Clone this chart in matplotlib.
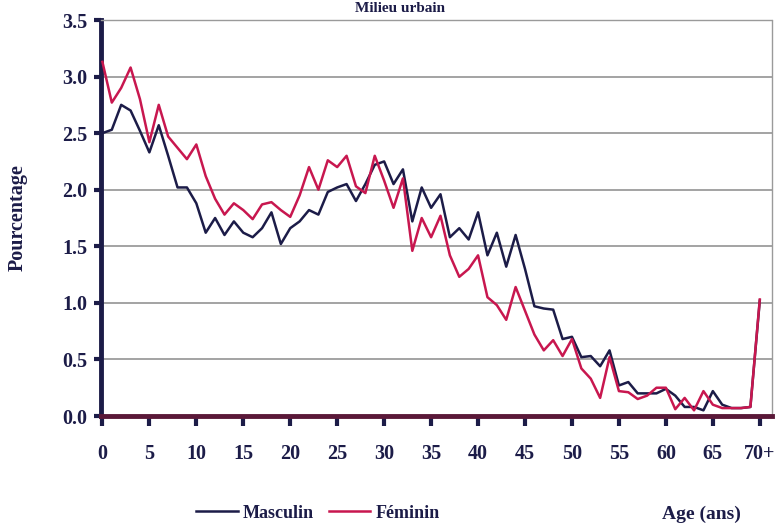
import matplotlib
matplotlib.use("Agg")
import matplotlib.pyplot as plt
import numpy as np

ages = list(range(71))
tick_pos = list(range(0, 71, 5))
tick_labels = ["0", "5", "10", "15", "20", "25", "30", "35", "40", "45", "50", "55", "60", "65", "70+"]
y_ticks = [0.0, 0.5, 1.0, 1.5, 2.0, 2.5, 3.0, 3.5]

masculin = [2.50, 2.53, 2.75, 2.70, 2.52, 2.33, 2.57, 2.30, 2.02, 2.02,
            1.88, 1.62, 1.75, 1.60, 1.72, 1.62, 1.58, 1.66, 1.80, 1.52,
            1.66, 1.72, 1.82, 1.78, 1.98, 2.02, 2.05, 1.90, 2.05, 2.22,
            2.25, 2.05, 2.18, 1.72, 2.02, 1.84, 1.96, 1.58, 1.66, 1.56,
            1.80, 1.42, 1.62, 1.32, 1.60, 1.30, 0.97, 0.95, 0.94, 0.68,
            0.70, 0.52, 0.53, 0.44, 0.58, 0.27, 0.30, 0.20, 0.20, 0.20,
            0.24, 0.18, 0.08, 0.08, 0.05, 0.22, 0.10, 0.07, 0.07, 0.08,
            1.02]
feminin = [3.13, 2.77, 2.90, 3.08, 2.80, 2.42, 2.75, 2.47, 2.37, 2.27,
           2.40, 2.12, 1.92, 1.78, 1.88, 1.82, 1.74, 1.87, 1.89, 1.82,
           1.76, 1.95, 2.20, 2.00, 2.26, 2.20, 2.30, 2.03, 1.97, 2.30,
           2.08, 1.84, 2.10, 1.46, 1.75, 1.58, 1.77, 1.42, 1.23, 1.30,
           1.42, 1.05, 0.98, 0.85, 1.14, 0.93, 0.72, 0.58, 0.67, 0.53,
           0.68, 0.42, 0.33, 0.16, 0.52, 0.22, 0.21, 0.15, 0.18, 0.25,
           0.25, 0.06, 0.16, 0.05, 0.22, 0.10, 0.07, 0.07, 0.07, 0.08,
           1.03]

navy = "#1c1c48"
crimson = "#c8174f"
serif = ["Liberation Serif", "DejaVu Serif"]

fig = plt.figure(figsize=(7.78, 5.26), dpi=100)
ax = fig.add_axes([101/778, 1 - 416/526, (772-101)/778, (416-20)/526])

ax.plot(ages, masculin, color=navy, lw=1.8, label="Masculin", zorder=3)
ax.plot(ages, feminin, color=crimson, lw=1.8, label="Féminin", zorder=4)

ax.set_xlim(-0.15, 71.3)
ax.set_ylim(0, 3.5)
ax.set_xticks(tick_pos)
ax.set_xticklabels(tick_labels)
ax.set_yticks(y_ticks)
ax.set_yticklabels([f"{v:.1f}" for v in y_ticks])

for v in y_ticks[1:]:
    ax.axhline(v, color="#8a8a8a", lw=1.1, zorder=1)

for s in ["top", "right"]:
    ax.spines[s].set_color("#9a9a9a")
    ax.spines[s].set_linewidth(1.0)
    ax.spines[s].set_linestyle((0, (1, 1)))
ax.spines["left"].set_color(navy)
ax.spines["left"].set_linewidth(3.5)
ax.spines["bottom"].set_color("#5a1838")
ax.spines["bottom"].set_linewidth(3.5)

ax.tick_params(axis="x", direction="out", length=7, width=3, color=navy, pad=13)
ax.tick_params(axis="y", direction="out", length=5, width=3, color=navy, pad=5)
for lab in ax.get_xticklabels() + ax.get_yticklabels():
    lab.set_fontfamily(serif)
    lab.set_fontweight("bold")
    lab.set_fontsize(14.5)
    lab.set_color(navy)

fig.text(18/778, 1 - 218/526, "Pourcentage", rotation=90, ha="center", va="center",
         fontsize=14.5, fontweight="bold", family=serif, color=navy)
fig.text(400/778, 1 - 8/526, "Milieu urbain", ha="center", va="center",
         fontsize=11, fontweight="bold", family=serif, color=navy)
fig.text(701/778, 1 - 514/526, "Age (ans)", ha="center", va="center",
         fontsize=14, fontweight="bold", family=serif, color=navy)

leg = fig.legend(loc="center", bbox_to_anchor=(318/778, 1 - 513/526), ncol=2,
                 frameon=False, handlelength=2.3, handletextpad=0.3, columnspacing=0.8,
                 prop={"family": serif, "weight": "bold", "size": 13})
for t in leg.get_texts():
    t.set_color(navy)

fig.savefig("out.png", dpi=100)
